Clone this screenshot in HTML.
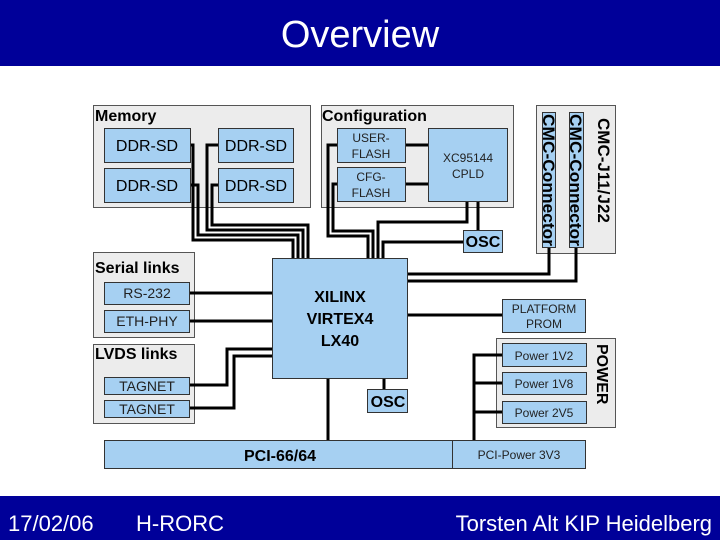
<!DOCTYPE html>
<html><head><meta charset="utf-8"><style>
html,body{margin:0;padding:0;background:#fff}
svg{display:block}
text{font-family:"Liberation Sans",Arial,sans-serif}
</style></head><body>
<svg width="720" height="540" viewBox="0 0 720 540" xmlns="http://www.w3.org/2000/svg">
<rect x="0" y="0" width="720" height="66" fill="#000099"/>
<text x="360" y="47" font-size="38" fill="#fff" text-anchor="middle">Overview</text>
<rect x="0" y="496" width="720" height="44" fill="#000099"/>
<text x="8" y="531" font-size="22" fill="#fff">17/02/06</text>
<text x="136" y="531" font-size="22" fill="#fff">H-RORC</text>
<text x="712" y="531" font-size="22" fill="#fff" text-anchor="end">Torsten Alt  KIP Heidelberg</text>

<g fill="#ececec" stroke="#555" stroke-width="1">
<rect x="93.5" y="105.5" width="217" height="102"/>
<rect x="321.5" y="105.5" width="192" height="102"/>
<rect x="536.5" y="105.5" width="79" height="148"/>
<rect x="93.5" y="252.5" width="101" height="85"/>
<rect x="93.5" y="344.5" width="101" height="79"/>
<rect x="496.5" y="338.5" width="119" height="89"/>
</g>
<g font-size="16" fill="#000" font-weight="bold">
<text x="95" y="121">Memory</text>
<text x="322" y="121">Configuration</text>
<text x="95" y="273">Serial links</text>
<text x="95" y="359">LVDS  links</text>
<text transform="translate(598,118) rotate(90)" font-size="17">CMC-J11/J22</text>
<text transform="translate(597,344) rotate(90)" font-size="16">POWER</text>
</g>

<g fill="none" stroke="#000" stroke-width="3">
<polyline points="190,145 193,145 193,240 293,240 293,258"/>
<polyline points="190,185 198,185 198,235 298,235 298,258"/>
<polyline points="218,145 207,145 207,230 303,230 303,258"/>
<polyline points="218,185 212,185 212,225 308,225 308,258"/>
<polyline points="337,145 328,145 328,236 368,236 368,258"/>
<polyline points="337,184 333,184 333,231 373,231 373,258"/>
<polyline points="467,201 467,222 378,222 378,258"/>
<polyline points="463,242 383,242 383,258"/>
<line x1="478" y1="201" x2="478" y2="230"/>
<line x1="405" y1="145" x2="428" y2="145"/>
<line x1="405" y1="184" x2="428" y2="184"/>
<polyline points="549,247 549,274 407,274"/>
<polyline points="576,247 576,281 407,281"/>
<line x1="407" y1="315" x2="502" y2="315"/>
<line x1="189" y1="293" x2="272" y2="293"/>
<line x1="189" y1="321" x2="272" y2="321"/>
<polyline points="189,385 227,385 227,349 272,349"/>
<polyline points="189,408 234,408 234,356 272,356"/>
<line x1="328" y1="378" x2="328" y2="440"/>
<line x1="384" y1="378" x2="384" y2="389"/>
<polyline points="502,355 474,355 474,440"/>
<line x1="474" y1="383" x2="502" y2="383"/>
<line x1="474" y1="412" x2="502" y2="412"/>
</g>

<g fill="#a6d0f2" stroke="#333" stroke-width="1">
<rect x="104.5" y="128.5" width="86" height="34"/>
<rect x="104.5" y="168.5" width="86" height="34"/>
<rect x="218.5" y="128.5" width="75" height="34"/>
<rect x="218.5" y="168.5" width="75" height="34"/>
<rect x="337.5" y="128.5" width="68" height="34"/>
<rect x="337.5" y="167.5" width="68" height="34"/>
<rect x="428.5" y="128.5" width="79" height="73"/>
<rect x="463.5" y="230.5" width="39" height="22"/>
<rect x="542.5" y="112.5" width="13" height="135"/>
<rect x="569.5" y="112.5" width="14" height="135"/>
<rect x="272.5" y="258.5" width="135" height="120"/>
<rect x="104.5" y="282.5" width="85" height="22"/>
<rect x="104.5" y="310.5" width="85" height="22"/>
<rect x="104.5" y="377.5" width="85" height="17"/>
<rect x="104.5" y="400.5" width="85" height="17"/>
<rect x="367.5" y="389.5" width="40" height="23"/>
<rect x="502.5" y="299.5" width="83" height="33"/>
<rect x="502.5" y="343.5" width="84" height="23"/>
<rect x="502.5" y="372.5" width="84" height="22"/>
<rect x="502.5" y="401.5" width="84" height="22"/>
<rect x="104.5" y="440.5" width="348" height="28"/>
<rect x="452.5" y="440.5" width="133" height="28"/>
</g>

<g font-size="16" fill="#000" text-anchor="middle">
<text x="147" y="151">DDR-SD</text>
<text x="147" y="191">DDR-SD</text>
<text x="256" y="151">DDR-SD</text>
<text x="256" y="191">DDR-SD</text>
<g font-weight="bold">
<text x="340" y="302">XILINX</text>
<text x="340" y="324">VIRTEX4</text>
<text x="340" y="346">LX40</text>
<text x="483" y="247">OSC</text>
<text x="388" y="407">OSC</text>
<text x="280" y="461">PCI-66/64</text>
</g>
</g>
<g font-size="13" fill="#222" text-anchor="middle">
<text x="371" y="142" font-size="12">USER-</text>
<text x="371" y="158" font-size="12">FLASH</text>
<text x="371" y="181" font-size="12">CFG-</text>
<text x="371" y="197" font-size="12">FLASH</text>
<text x="468" y="162" font-size="12">XC95144</text>
<text x="468" y="178" font-size="12">CPLD</text>
<text x="147" y="298" font-size="14">RS-232</text>
<text x="147" y="326" font-size="14">ETH-PHY</text>
<text x="147" y="391" font-size="14">TAGNET</text>
<text x="147" y="414" font-size="14">TAGNET</text>
<text x="544" y="313" font-size="12">PLATFORM</text>
<text x="544" y="328" font-size="12">PROM</text>
<text x="544" y="360" font-size="12">Power 1V2</text>
<text x="544" y="388" font-size="12">Power 1V8</text>
<text x="544" y="417" font-size="12">Power 2V5</text>
<text x="519" y="459" font-size="12">PCI-Power 3V3</text>
</g>
<text transform="translate(543,114) rotate(90)" font-size="17" font-weight="bold" fill="#000" textLength="132" lengthAdjust="spacingAndGlyphs">CMC-Connector</text>
<text transform="translate(570,114) rotate(90)" font-size="17" font-weight="bold" fill="#000" textLength="132" lengthAdjust="spacingAndGlyphs">CMC-Connector</text>
</svg>
</body></html>
